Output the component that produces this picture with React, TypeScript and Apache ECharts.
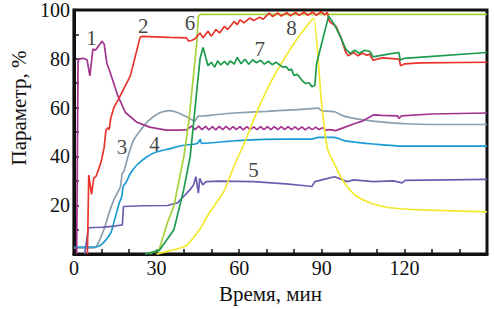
import React, { useEffect, useRef } from 'react';
import * as echarts from 'echarts';

// Curve 1 (magenta)
const curve1: number[][] = [
  [1, 0], [1.5, 79], [2, 80], [3.5, 80.2], [4.8, 79.5], [5.8, 73], [6.9, 84], [7.8, 83.5], [8.8, 85],
  [10.2, 87.2], [11, 86], [12, 78], [13, 75], [15.9, 65], [18.7, 58], [22.9, 54], [27.5, 52],
  [33.5, 50.8], [38.5, 50.8], [41, 51], [42.8, 52.5], [44, 51], [45.3, 52.4], [46.5, 51], [47.8, 52.3],
  [49, 50.9], [50.3, 52.2], [51.5, 50.9], [52.8, 52.3], [54, 51], [55.3, 52.3], [56.5, 51], [57.8, 52.2],
  [59, 51], [60.3, 52.2], [61.5, 50.9], [62.8, 52.2], [64, 51], [65.3, 52.1], [66.5, 51], [67.8, 52.2],
  [69, 51], [70.3, 52.2], [71.5, 51], [72.8, 52.2], [74, 51], [75.3, 52.2], [76.5, 51], [77.8, 52.2],
  [79, 51], [80.3, 52.1], [81.5, 51], [82.8, 52.1], [84, 50.9], [85.3, 52], [86.5, 51], [87.8, 52],
  [89, 51], [90.3, 51.8], [91.5, 50.8], [93, 51], [95, 50.6], [98, 51.8], [102, 53.5], [105, 54.6],
  [108.7, 57], [112, 56.8], [117.5, 56.6], [118, 55.6], [119, 56.6], [130, 57.4], [150, 57.8],
];

// Curve 2 (red)
const curve2: number[][] = [
  [4.9, 0], [5.4, 32.4], [6.4, 24.5], [7.2, 31], [8.1, 32], [8.9, 34.5], [9.9, 37.8], [11, 43.8],
  [11.6, 50.6], [12.4, 51.8], [12.8, 51], [13.4, 55.8], [14.5, 60], [16.2, 63.5], [20.5, 73], [24, 88.7],
  [24.7, 89.2], [34.6, 88.8], [40.9, 88.6], [41.6, 87.3], [42.7, 87.5], [44, 88.2], [45.8, 90.6],
  [46.9, 88.6], [48.7, 91.3], [49.9, 89.3], [51.6, 92], [52.9, 90.6], [54.7, 93.3], [55.8, 92],
  [58.2, 95.3], [59.3, 94], [60.4, 96], [61.7, 94.7], [63.9, 96.7], [65.2, 95.7], [67.5, 97], [68.7, 96.2],
  [70.9, 98.7], [72.2, 97.3], [74, 98.8], [75.3, 97.5], [77.3, 98.9], [78.6, 97.6], [80.5, 99], [81.8, 97.8],
  [83.6, 99.2], [84.9, 97.8], [86.7, 99.2], [88, 97.8], [89.8, 99.3], [91, 98], [92, 99], [92.8, 95.3],
  [95.2, 93.3], [96.9, 88.8], [98.7, 82.7], [99.6, 81.2], [101.5, 82.6], [103.2, 81.2], [104.7, 82.4],
  [106.3, 81.5], [107.4, 81.9], [108.6, 79.4], [112, 80.4], [118.1, 79.9], [118.6, 77.2], [120, 77.9],
  [126, 78.3], [150, 78.6],
];

// Curve 3 (grey)
const curve3: number[][] = [
  [0, 2.5], [6, 2.5], [8.1, 3], [11, 10.4], [12.8, 17], [14.6, 22.4], [16.9, 27.7], [17.5, 33], [18.1, 33.7],
  [19.9, 41], [21.6, 46.5], [24, 50.5], [26.9, 54.5], [31, 57.8], [34.6, 58.8], [38.1, 57.8], [41.6, 55.8],
  [43.9, 54.5], [45.2, 56.5], [47.6, 56.6], [52.2, 57.2], [58.1, 57.8], [70, 58.5], [81.2, 59.2],
  [86.4, 59.6], [88.7, 59.8], [89.9, 58.8], [94.6, 58.3], [98.1, 56.5], [102.7, 55.4], [108.7, 54.5],
  [120.3, 53.4], [132.3, 53.1], [150, 53.1],
];

// Curve 4 (blue)
const curve4: number[][] = [
  [0, 2.9], [7, 2.9], [9, 3.2], [11, 5], [13.5, 9], [15, 15], [16.5, 21], [17.4, 23.7], [17.9, 27.7],
  [19.1, 29.7], [20.5, 33], [22.8, 36.4], [26.4, 39.8], [29.9, 41.8], [34.6, 43.1], [39.3, 44.5],
  [44, 45.1], [45.2, 45.8], [45.9, 47], [46.3, 45.4], [59.3, 46.5], [77, 47.1], [86.4, 47.1], [88.7, 47.8],
  [94.6, 47.8], [98.1, 46.5], [102.7, 45.8], [108.7, 45.1], [119.2, 44.2], [150, 44.2],
];

// Curve 5 (slate purple)
const curve5: number[][] = [
  [3.9, 0], [5.3, 10.8], [10, 11], [15, 11.5], [17.6, 12], [18, 19.5], [25, 19.8], [34, 19.9], [37.6, 21],
  [39.9, 23.7], [42.2, 26.4], [43.5, 28.5], [44.3, 31.7], [45.2, 25], [45.7, 31], [46.8, 28.4], [48, 29.7],
  [53, 29.9], [65.2, 29.7], [77, 28.8], [84, 28], [86.4, 27.7], [87.5, 29.7], [92.2, 31], [94.6, 31.7],
  [99.2, 29.7], [101.6, 30.4], [108.7, 29.7], [116, 30], [119.2, 29.2], [120.3, 30.2], [150, 30.6],
];

// Curve 6 (yellow-green)
const curve6: number[][] = [
  [27.5, 0], [31, 2], [34, 13], [36.3, 19.7], [39.9, 39.8], [41.6, 53], [43.4, 73], [44.6, 86.6],
  [45.2, 97.3], [45.9, 98.2], [150, 98.2],
];

// Curve 7 (green)
const curve7: number[][] = [
  [25.8, 0], [31, 1.5], [36.3, 10], [39.9, 26.5], [42.2, 39.8], [43.4, 53], [44.6, 66.7], [45.8, 80],
  [46.9, 84.6], [48.7, 77.2], [49.9, 78.6], [51.1, 76.6], [52.2, 79.2], [53.3, 77.5], [54.7, 79],
  [55.8, 77.5], [56.8, 79.2], [58.2, 77.8], [59.3, 80.6], [60.7, 78], [62.1, 79.8], [63.5, 77.8],
  [64.9, 79.6], [66.3, 78.4], [67.8, 79.4], [69.2, 77.8], [70.6, 79], [72, 77.6], [73.4, 78.6],
  [75.8, 76.6], [77, 76.8], [78.2, 75.2], [79, 75.8], [79.9, 73.2], [81.2, 73.6], [82.8, 71.2], [84, 69.9],
  [85.4, 70.2], [86.4, 68.6], [87.2, 69], [87.5, 69.2], [88.1, 77.9], [89.3, 83.3], [90.5, 88.6],
  [91.7, 94], [92.5, 97.5], [94.6, 94], [96.9, 88.8], [98.7, 84], [100.3, 82.2], [102, 83.5],
  [103.6, 82.3], [105.5, 83.5], [107.5, 83], [108.6, 80.8], [114.6, 82], [118, 82.6], [118.5, 79.5],
  [120, 80.2], [150, 82.6],
];

// Curve 8 (yellow)
const curve8: number[][] = [
  [30, 0], [34.6, 1.3], [40.9, 3.6], [46.2, 11], [48.7, 16], [54.6, 26], [58.1, 36], [61.7, 45],
  [67.5, 61], [72.2, 72], [76.9, 81], [81.6, 89], [86.4, 96], [87.2, 96.5], [89.9, 62], [92.1, 43],
  [94.6, 37], [96.7, 32], [99.2, 27.7], [102.7, 23.7], [108.7, 20.5], [114.6, 19], [126.3, 18.1],
  [150, 17.3],
];

// Curve number labels
const labelTexts = ['1', '2', '3', '4', '5', '6', '7', '8'];
const labelX = [6.4, 25.2, 17.5, 29.3, 65.2, 42.2, 67.5, 79];
const labelY = [88.6, 93.3, 43.8, 45.1, 34.4, 94.7, 83.9, 92.6];

const xLabeled = [0, 30, 60, 90, 120];
const yLabeled = [20, 40, 60, 80, 100];

const FONT = 'Liberation Serif';

export default function App() {
  const ref = useRef<HTMLDivElement>(null);
  useEffect(() => {
    if (!ref.current) return;
    const chart = echarts.init(ref.current, undefined, { renderer: 'svg' });
    const mk = (data: number[][], color: string, smooth: number | boolean = false) => ({
      type: 'line',
      data,
      showSymbol: false,
      symbol: 'none',
      smooth,
      lineStyle: { color, width: 1.7 },
      silent: true,
    });
    chart.setOption({
      animation: false,
      textStyle: { fontFamily: FONT },
      grid: {
        left: 62, right: 7, top: 10, bottom: 50,
        show: true, borderColor: '#111', borderWidth: 3,
      },
      xAxis: {
        type: 'value', min: 0, max: 150, interval: 10,
        name: 'Время, мин', nameLocation: 'middle', nameGap: 27,
        nameTextStyle: { fontFamily: FONT, fontSize: 21, color: '#111', padding: [0, 20, 0, 0] },
        axisLine: { show: true, lineStyle: { color: '#111', width: 3 } },
        axisTick: { show: true, inside: true, length: 5, lineStyle: { color: '#111', width: 1.5 } },
        splitLine: { show: false },
        axisLabel: {
          fontFamily: FONT, fontSize: 20, color: '#111', margin: 4,
          showMinLabel: true, showMaxLabel: false,
          formatter: (v: number) => (xLabeled.includes(v) ? String(v) : ''),
        },
      },
      yAxis: {
        type: 'value', min: 0, max: 100, interval: 10,
        name: 'Параметр, %', nameLocation: 'middle', nameGap: 35, nameRotate: 90,
        nameTextStyle: { fontFamily: FONT, fontSize: 21, color: '#111', padding: [0, 0, 0, 48] },
        axisLine: { show: true, lineStyle: { color: '#111', width: 3 } },
        axisTick: { show: true, inside: true, length: 5, lineStyle: { color: '#111', width: 1.5 } },
        splitLine: { show: false },
        axisLabel: {
          fontFamily: FONT, fontSize: 20, color: '#111', margin: 4,
          showMinLabel: true, showMaxLabel: true,
          formatter: (v: number) => (yLabeled.includes(v) ? String(v) : ''),
        },
      },
      series: [
        mk(curve3, '#8c9fae', 0.2),
        mk(curve4, '#1c9ad2', 0.2),
        mk(curve5, '#6a5cb0'),
        mk(curve1, '#a2338f'),
        mk(curve8, '#f2e82c', 0.2),
        mk(curve6, '#a6d13a'),
        mk(curve2, '#e8342b'),
        mk(curve7, '#1d9a4c'),
        {
          type: 'scatter',
          symbolSize: 0,
          silent: true,
          itemStyle: { color: '#111' },
          data: labelTexts.map((t, i) => ({ name: t, value: [labelX[i], labelY[i]] })),
          label: {
            show: true, position: 'inside', formatter: (p: any) => p.name,
            fontFamily: FONT, fontSize: 21, color: '#111',
          },
          z: 10,
        },
      ],
    });
    return () => chart.dispose();
  }, []);
  return <div ref={ref} style={{ width: 494, height: 309, position: 'absolute', left: 0, top: 0 }} />;
}
